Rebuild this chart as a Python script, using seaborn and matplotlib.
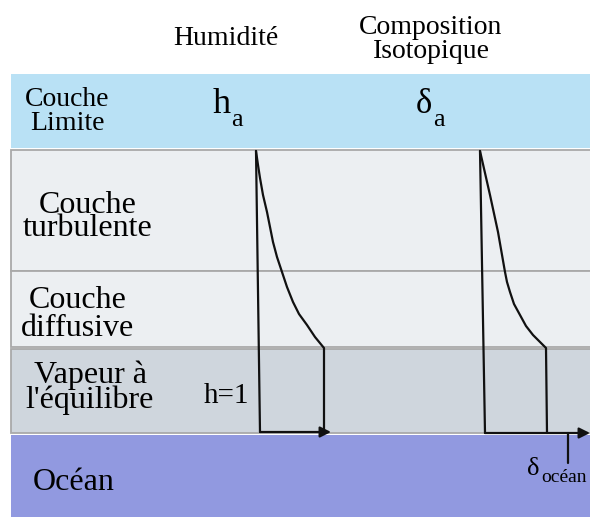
import matplotlib
matplotlib.use("Agg")
import matplotlib.pyplot as plt
from matplotlib import font_manager
from matplotlib.patches import Rectangle
import seaborn as sns

# Layers of the evaporation model (depth in picture units, 0 = top)
layer_labels = ["Couche\nLimite", "Couche\nturbulente", "Couche\ndiffusive",
                "Vapeur à\nl'équilibre", "Océan"]
layer_top = [74, 150, 271, 349, 435]
layer_bottom = [148, 271, 347, 433, 517]
layer_colors = ["#b9e1f5", "#eceff2", "#eceff2", "#cfd6dd", "#9199e0"]
layer_edges = ["none", "#a9a9a9", "#a9a9a9", "#a9a9a9", "none"]

# Humidity profile (h_a at top -> h=1 at the saturated layer)
hum_depth = [151, 165, 178, 195, 212, 227, 242, 257, 272, 287, 302, 314, 325, 337, 348, 432]
hum_value = [256, 258, 260, 263, 267, 270, 273, 277, 282, 287, 293, 299, 307, 315, 324, 324]
hum_axis_depth = [151, 432]
hum_axis_value = [256, 260]

# Isotope profile (delta_a at top -> delta_ocean)
iso_depth = [151, 195, 232, 272, 282, 292, 304, 315, 326, 335, 342, 348, 433]
iso_value = [480, 490, 498, 505, 507, 510, 514, 520, 526, 533, 540, 546, 547]
iso_axis_depth = [151, 433]
iso_axis_value = [480, 485]

sns.set_style("white")
names = {f.name for f in font_manager.fontManager.ttflist}
serif = "Liberation Serif" if "Liberation Serif" in names else "DejaVu Serif"
plt.rcParams["font.family"] = [serif, "DejaVu Serif"]
plt.rcParams["text.color"] = "black"

fig = plt.figure(figsize=(5.9, 5.17), dpi=100)
ax = fig.add_axes([0, 0, 1, 1])

# bands
for top, bot, fc, ec in zip(layer_top, layer_bottom, layer_colors, layer_edges):
    ax.add_patch(Rectangle((11, top), 600, bot - top, facecolor=fc,
                           edgecolor=ec, linewidth=1.3, zorder=1))

# layer labels (x centre, last-line baseline, size, line spacing)
label_layout = [(67, 130, 20, 0.97), (88, 236, 23, 0.74), (78, 336, 23, 0.97),
                (90, 408, 23, 0.8), (74, 490, 23, 1.0)]
for lab, (lx, ly, fs, ls) in zip(layer_labels, label_layout):
    ax.text(lx, ly, lab, ha="center", va="baseline", multialignment="center",
            fontsize=fs, linespacing=ls, zorder=5)

# column headers
ax.text(226, 45, "Humidité", ha="center", va="baseline", fontsize=20)
ax.text(431, 58, "Composition\nIsotopique", ha="center", va="baseline",
        multialignment="center", fontsize=20, linespacing=0.95)

# profiles
line_kw = dict(color="#111111", linewidth=1.6, sort=False, estimator=None,
               legend=False, ax=ax)
sns.lineplot(x=hum_value, y=hum_depth, **line_kw)
sns.lineplot(x=hum_axis_value, y=hum_axis_depth, **line_kw)
sns.lineplot(x=iso_value, y=iso_depth, **line_kw)
sns.lineplot(x=iso_axis_value, y=iso_axis_depth, **line_kw)
ax.set_xlim(0, 590)
ax.set_ylim(517, 0)
ax.axis("off")

arrow_kw = dict(arrowstyle="-|>", color="#111111", lw=1.6,
                mutation_scale=16, shrinkA=0, shrinkB=0)
ax.annotate("", xy=(331, hum_axis_depth[1]),
            xytext=(hum_axis_value[1], hum_axis_depth[1]), arrowprops=arrow_kw)
ax.annotate("", xy=(590, iso_axis_depth[1]),
            xytext=(iso_axis_value[1], iso_axis_depth[1]), arrowprops=arrow_kw)
ax.plot([568, 568], [iso_axis_depth[1], 463], color="#111111", lw=1.6)

# symbols with subscripts
ax.text(213, 113, "h", ha="left", va="baseline", fontsize=26)
ax.text(231, 126, "a", ha="left", va="baseline", fontsize=19)
ax.text(416, 113, "δ", ha="left", va="baseline", fontsize=25)
ax.text(433, 126, "a", ha="left", va="baseline", fontsize=19)
ax.text(527, 475, "δ", ha="left", va="baseline", fontsize=19)
ax.text(541, 482, "océan", ha="left", va="baseline", fontsize=14)
ax.text(226, 403, "h=1", ha="center", va="baseline", fontsize=21)

fig.savefig("out.png", dpi=100)
